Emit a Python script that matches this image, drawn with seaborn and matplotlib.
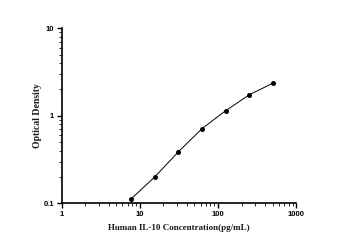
import matplotlib
matplotlib.use("Agg")
import matplotlib.pyplot as plt
import seaborn as sns
import pandas as pd
from matplotlib.ticker import LogLocator, NullFormatter, FixedLocator, FixedFormatter

concentration = [7.8, 15.6, 31.25, 62.5, 125, 250, 500]
optical_density = [0.113, 0.201, 0.389, 0.713, 1.14, 1.73, 2.35]
x_ticks = [1, 10, 100, 1000]
x_tick_labels = ["1", "10", "100", "1000"]
y_ticks = [0.1, 1, 10]
y_tick_labels = ["0.1", "1", "10"]

df = pd.DataFrame({"conc": concentration, "od": optical_density})

sns.set_style("ticks")
fig = plt.figure(figsize=(3.46, 2.45), dpi=100)
ax = fig.add_axes([0.178, 0.170, 0.678, 0.715])

sns.lineplot(data=df, x="conc", y="od", ax=ax, color="black", linewidth=0.7,
             marker="o", markersize=3.6, markeredgewidth=0, markerfacecolor="black")

ax.set_xscale("log")
ax.set_yscale("log")
ax.set_xlim(1, 1000)
ax.set_ylim(0.1, 10)

ax.xaxis.set_major_locator(FixedLocator(x_ticks))
ax.xaxis.set_major_formatter(FixedFormatter(x_tick_labels))
ax.yaxis.set_major_locator(FixedLocator(y_ticks))
ax.yaxis.set_major_formatter(FixedFormatter(y_tick_labels))
ax.xaxis.set_minor_locator(LogLocator(base=10, subs=range(2, 10)))
ax.yaxis.set_minor_locator(LogLocator(base=10, subs=range(2, 10)))
ax.xaxis.set_minor_formatter(NullFormatter())
ax.yaxis.set_minor_formatter(NullFormatter())

ax.tick_params(which="major", length=3.5, width=1.0, direction="out",
               labelsize=5.5, pad=2, colors="black")
ax.tick_params(which="minor", length=2, width=0.7, direction="out")
for lab in ax.get_xticklabels() + ax.get_yticklabels():
    lab.set_fontweight("bold")
    lab.set_family("Liberation Sans")

for s in ["top", "right"]:
    ax.spines[s].set_visible(False)
for s in ["left", "bottom"]:
    ax.spines[s].set_linewidth(1.2)
    ax.spines[s].set_color("black")

ax.set_xlabel("Human IL-10 Concentration(pg/mL)", fontsize=6.5, fontweight="bold",
              family="Liberation Serif", labelpad=4, color="#1a1a1a")
ax.set_ylabel("Optical Density", fontsize=7, fontweight="bold",
              family="Liberation Serif", labelpad=1, color="#1a1a1a")

fig.savefig("out.png", dpi=100)
